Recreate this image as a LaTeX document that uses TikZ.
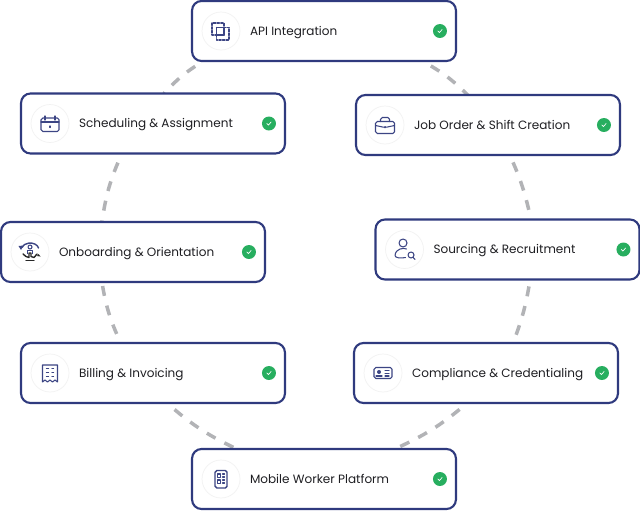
\documentclass[tikz,border=0pt]{standalone}
\usepackage{fontspec}
\setmainfont{Poppins}
\usepackage{tikz}
\usetikzlibrary{calc,positioning,backgrounds}

\definecolor{cardblue}{HTML}{2F3A7E}
\definecolor{iconblue}{HTML}{3C4584}
\definecolor{linkgray}{HTML}{B2B3B6}
\definecolor{checkgreen}{HTML}{27AE5F}
\definecolor{labelgray}{HTML}{1E1E22}

\tikzset{
	card/.style={draw=cardblue, fill=white, line width=1.2pt, rounded corners=.19cm, minimum width=5.28cm, minimum height=1.2cm, inner sep=0pt, outer sep=0pt},
	iconring/.style={circle, draw=black!5, line width=.4pt, minimum size=.76cm, inner sep=0pt, outer sep=0pt},
	cardlabel/.style={font=\fontsize{6.85}{8}\selectfont, text=labelgray, text height=5.1pt, text depth=0pt, inner sep=0pt, outer sep=0pt},
	checkdot/.style={circle, fill=checkgreen, minimum size=.28cm, inner sep=0pt, outer sep=0pt,
		path picture={\draw[white, line width=.4pt, line cap=round] ($(path picture bounding box.center)+(-2,0)$) -- ++(1.4,1.5) -- ++(2.8,-3);}},
	linkdash/.style={draw=linkgray, line width=2pt, dash pattern=on 5.7pt off 5.7pt},
	icon/.style={draw=iconblue, line width=.6pt, line cap=round, line join=round}
}

\begin{document}
\begin{tikzpicture}[x=.02cm,y=-.02cm]
	\useasboundingbox (0,0) rectangle (640,511);
	
	\node[card] (api) at (324,31) {};
	\node[card] (sched) at (153,123.5) {};
	\node[card] (job) at (488,125) {};
	\node[card] (onb) at (133,252) {};
	\node[card] (src) at (507.5,249.5) {};
	\node[card] (bill) at (153,373) {};
	\node[card] (comp) at (486,373) {};
	\node[card] (mob) at (324,479) {};
	
	\node[iconring, right=.2cm of api.west] (apiring) {};
	\node[iconring, right=.2cm of sched.west] (schedring) {};
	\node[iconring, right=.2cm of job.west] (jobring) {};
	\node[iconring, right=.2cm of onb.west] (onbring) {};
	\node[iconring, right=.2cm of src.west] (srcring) {};
	\node[iconring, right=.2cm of bill.west] (billring) {};
	\node[iconring, right=.2cm of comp.west] (compring) {};
	\node[iconring, right=.2cm of mob.west] (mobring) {};
	
	\node[cardlabel, right=1.16cm of api.west] (apilabel) {API Integration};
	\node[cardlabel, right=1.16cm of sched.west] (schedlabel) {Scheduling \& Assignment};
	\node[cardlabel, right=1.16cm of job.west] (joblabel) {Job Order \& Shift Creation};
	\node[cardlabel, right=1.16cm of onb.west] (onblabel) {Onboarding \& Orientation};
	\node[cardlabel, right=1.16cm of src.west] (srclabel) {Sourcing \& Recruitment};
	\node[cardlabel, right=1.16cm of bill.west] (billlabel) {Billing \& Invoicing};
	\node[cardlabel, right=1.16cm of comp.west] (complabel) {Compliance \& Credentialing};
	\node[cardlabel, right=1.16cm of mob.west] (moblabel) {Mobile Worker Platform};
	
	\node[checkdot, left=.18cm of api.east] (apicheck) {};
	\node[checkdot, left=.18cm of sched.east] (schedcheck) {};
	\node[checkdot, left=.18cm of job.east] (jobcheck) {};
	\node[checkdot, left=.18cm of onb.east] (onbcheck) {};
	\node[checkdot, left=.18cm of src.east] (srccheck) {};
	\node[checkdot, left=.18cm of bill.east] (billcheck) {};
	\node[checkdot, left=.18cm of comp.east] (compcheck) {};
	\node[checkdot, left=.18cm of mob.east] (mobcheck) {};
	
	% dashed ring behind the cards
	\begin{scope}[on background layer]
		\draw[linkdash, dash phase=5.7pt] (api.194.8) to[bend right=8] (sched.70);
		\draw[linkdash, dash phase=5.7pt] (sched.224) to[bend right=8] (onb.136);
		\draw[linkdash, dash phase=9.1pt] (onb.224) to[bend right=8] (bill.137);
		\draw[linkdash, dash phase=5.7pt] (bill.295) to[bend right=8] (mob.161);
		\draw[linkdash, dash phase=5.7pt] (api.343) to[bend left=8] (job.124);
		\draw[linkdash, dash phase=6.8pt] (job.306) to[bend left=6] (src.52);
		\draw[linkdash, dash phase=7.4pt] (src.307) to[bend left=6] (comp.48);
		\draw[linkdash, dash phase=5.7pt] (comp.238) to[bend left=8] (mob.23);
	\end{scope}
	
	% api
	\begin{scope}[shift={(apiring.center)}]
		\draw[icon, dashed, dash pattern=on 1.4pt off .7pt] (-9,-8) rectangle (3,4);
		\draw[icon, dashed, dash pattern=on 1.4pt off .7pt] (-4.5,-3.5) rectangle (8,9);
		\draw[icon] (-4.5,4) -- (-4.5,-3.5) -- (3,-3.5) -- (3,4) -- cycle;
	\end{scope}
	
	% scheduling
	\begin{scope}[shift={(schedring.center)}]
		\draw[icon, rounded corners=1pt] (-9,-5.5) rectangle (9,8);
		\draw[icon] (-9,-1.5) -- (9,-1.5);
		\draw[icon] (-5,-7.5) -- (-5,-3.5);
		\draw[icon] (5,-7.5) -- (5,-3.5);
		\draw[icon] (0,2.5) -- (0,4);
	\end{scope}
	
	% job order
	\begin{scope}[shift={(jobring.center)}]
		\draw[icon, rounded corners=1pt] (-9.5,-3.5) rectangle (9.5,8.5);
		\draw[icon, rounded corners=1pt] (-4.5,-3.5) -- (-4.5,-7.5) -- (4.5,-7.5) -- (4.5,-3.5);
		\draw[icon] (-9.5,.5) -- (-1.5,2.2) -- (1.5,2.2) -- (9.5,.5);
		\fill[iconblue] (0,2.2) circle (1.2);
	\end{scope}
	
	% onboarding
	\begin{scope}[shift={(onbring.center)}]
		\draw[icon] (0,-5) circle (2);
		\draw[icon, line width=.8pt] (8.5,-4) arc (-10:-165:8.5 and 6);
		\fill[iconblue] (-11.5,-6) -- (-6.5,-6.5) -- (-9,-2) -- cycle;
		\draw[icon] (-2.5,1.5) -- (-2.5,-1.5) -- (2.5,-1.5) -- (2.5,1.5);
		\draw[black!85, line width=.8pt, line cap=round, line join=round] (-7,2) -- (-4,4.5) -- (-1,5.5) -- (-1,1) -- (1,1) -- (1,4.5) -- (4,5.5) -- (7,2);
		\draw[black!85, line width=.8pt, line cap=round] (-4,8.5) -- (4,8.5);
		\fill[black!85] (7,4) -- (8.5,2) -- (10.5,4.5) -- cycle;
	\end{scope}
	
	% sourcing
	\begin{scope}[shift={(srcring.center)}]
		\draw[icon] (-1.5,-6.5) circle (4);
		\draw[icon] (2,-.5) .. controls (-1,-2) and (-9,-1) .. (-9.5,6) .. controls (-9.5,8.5) and (-4,9) .. (1,8);
		\draw[icon] (6.5,5.5) circle (3);
		\draw[icon] (8.5,7.7) -- (10.5,10);
	\end{scope}
	
	% billing
	\begin{scope}[shift={(billring.center)}]
		\draw[icon] (-7.5,9) -- (-7.5,-8) -- (7.5,-8) -- (7.5,9) -- (5,7) -- (2.5,9) -- (0,7) -- (-2.5,9) -- (-5,7) -- cycle;
		\foreach \rowy in {-4.5,-.5,3.5}{
			\draw[icon, line width=.8pt] (-3.5,\rowy) -- (-1.5,\rowy);
			\draw[icon, line width=.8pt] (2,\rowy) -- (3.5,\rowy);
		}
	\end{scope}
	
	% compliance
	\begin{scope}[shift={(compring.center)}]
		\draw[icon, rounded corners=1pt] (-9,-5.5) rectangle (9,5.5);
		\fill[iconblue] (-4,-1) circle (2);
		\draw[icon] (-7,3) -- (-1,3);
		\draw[icon] (2,-2.5) -- (6,-2.5);
		\draw[icon] (2,.5) -- (6,.5);
		\draw[icon] (2,3) -- (6,3);
	\end{scope}
	
	% mobile
	\begin{scope}[shift={(mobring.center)}]
		\draw[icon, rounded corners=1pt, line width=.8pt] (-6,-8.5) rectangle (6,9);
		\draw[icon] (-3.5,-5) rectangle (-.5,-1.5);
		\draw[icon] (-3.5,1) rectangle (-.5,4.5);
		\draw[icon] (1.5,-5) -- (3.5,-5);
		\draw[icon] (1.5,-2) -- (3.5,-2);
		\draw[icon] (1.5,1) -- (3.5,1);
		\draw[icon] (1.5,4) -- (3.5,4);
	\end{scope}
\end{tikzpicture}
\end{document}
